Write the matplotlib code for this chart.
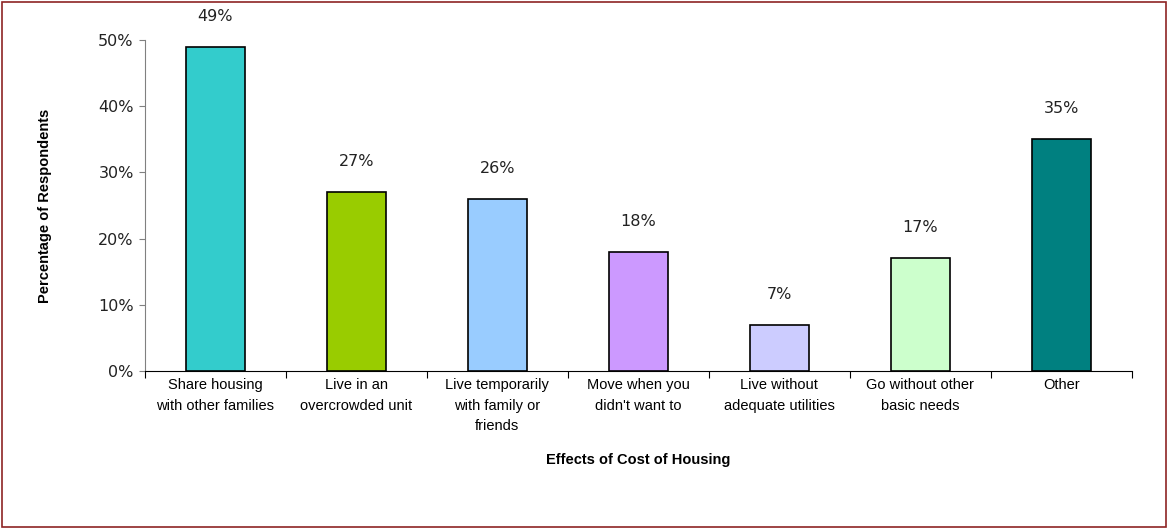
import matplotlib.pyplot as plt
from matplotlib.patches import Rectangle
from matplotlib.ticker import FuncFormatter
import numpy as np

categories = [
    "Share housing\nwith other families",
    "Live in an\novercrowded unit",
    "Live temporarily\nwith family or\nfriends",
    "Move when you\ndidn't want to",
    "Live without\nadequate utilities",
    "Go without other\nbasic needs",
    "Other",
]
values = [49, 27, 26, 18, 7, 17, 35]
colors = ["#33CCCC", "#99CC00", "#99CCFF", "#CC99FF", "#CCCCFF", "#CCFFCC", "#008080"]

fig = plt.figure(figsize=(11.68, 5.29), dpi=100)
ax = fig.add_axes([0.124, 0.2987, 0.845, 0.6257])

x = np.arange(len(values))
ax.bar(x, values, width=0.42, color=colors, edgecolor="black", linewidth=1.2, zorder=3)

for xi, v in zip(x, values):
    ax.text(xi, v + 4.6, f"{v}%", ha="center", va="center", fontsize=11.5, color="#222222")

ax.set_xlim(-0.5, len(values) - 0.5)
ax.set_ylim(0, 50)
ax.set_yticks([0, 10, 20, 30, 40, 50])
ax.yaxis.set_major_formatter(FuncFormatter(lambda v, _: f"{v:.0f}%"))
ax.tick_params(axis="y", labelsize=11.5, length=4, color="#808080", pad=4,
               labelcolor="#222222")

# category ticks at boundaries, labels at centers
ax.set_xticks(np.arange(len(values) + 1) - 0.5)
ax.set_xticklabels([])
ax.set_xticks(x, minor=True)
ax.set_xticklabels(categories, minor=True, fontsize=10.5, family="Liberation Sans",
                   linespacing=1.6)
ax.tick_params(axis="x", which="major", length=5, color="black")
ax.tick_params(axis="x", which="minor", length=0, pad=5)

ax.spines["top"].set_visible(False)
ax.spines["right"].set_visible(False)
ax.spines["left"].set_color("#808080")
ax.spines["bottom"].set_color("black")

ax.set_ylabel("Percentage of Respondents", fontsize=10.5, fontweight="bold",
              family="Liberation Sans", labelpad=33)
fig.text(0.546, 0.13, "Effects of Cost of Housing", ha="center", va="center",
         fontsize=10.5, fontweight="bold", family="Liberation Sans")

# border around figure
fig.patches.append(Rectangle((0.002, 0.003), 0.996, 0.994, transform=fig.transFigure,
                             fill=False, edgecolor="#8E2424", linewidth=1.2))

fig.savefig("out.png", dpi=100)
plt.close(fig)
